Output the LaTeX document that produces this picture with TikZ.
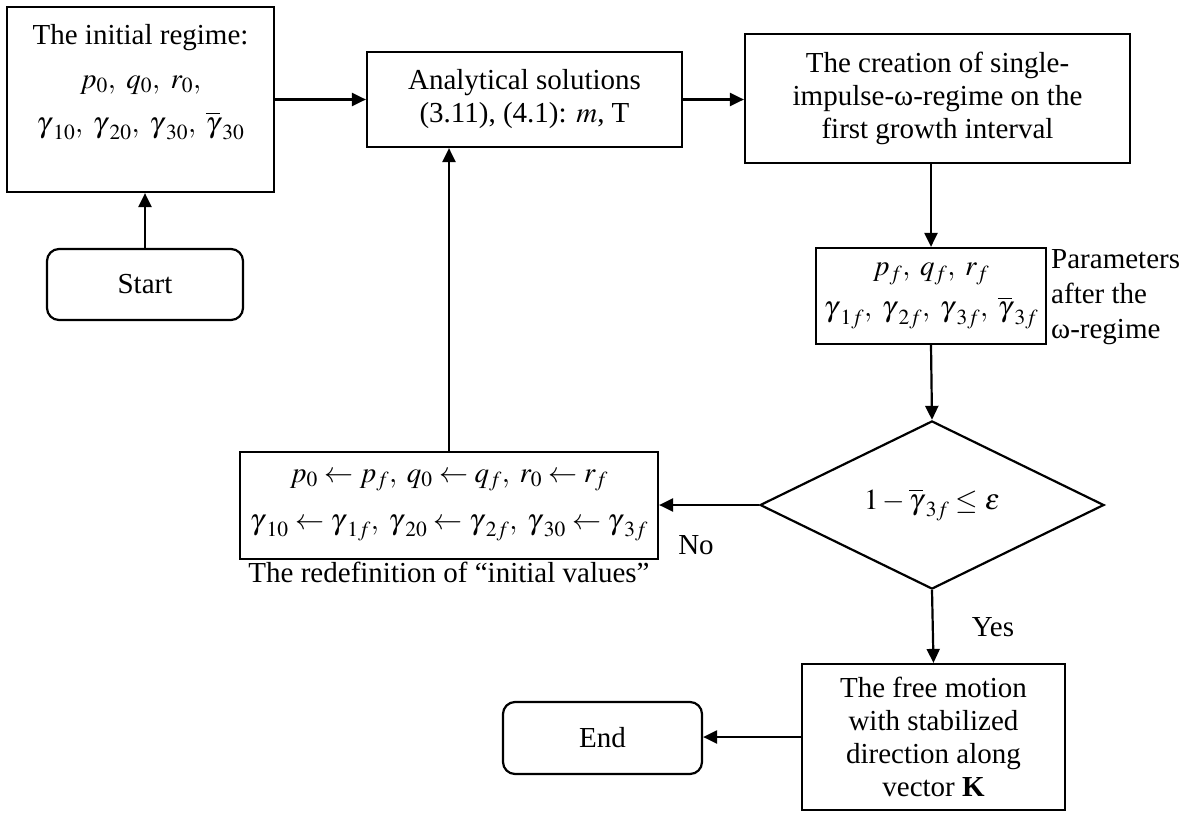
\documentclass[tikz,border=0pt]{standalone}
\usepackage{mathptmx}
\usepackage{fontspec}
\setmainfont{Liberation Serif}
\usetikzlibrary{arrows.meta,shapes.geometric}
\newcommand{\gam}[1]{{\gamma\mkern1.5mu}_{#1}}
\newcommand{\gambar}[1]{{\overline{\gamma}\mkern1.5mu}_{#1}}
\tikzset{
  box/.style={draw, line width=2.2pt, align=center, inner sep=0pt},
  term/.style={box, rounded corners=12pt},
  decision/.style={draw, diamond, line width=2.2pt, inner sep=0pt},
  flow/.style={line width=2.2pt, -{Triangle[length=14pt,width=13pt]}},
  lbl/.style={inner sep=0pt, align=center}
}
\begin{document}
\begin{tikzpicture}[x=1pt,y=-1pt]
                \useasboundingbox (0,0) rectangle (1190,816);
                {\fontsize{29}{33}\selectfont

                % Box: initial regime
                \node [box, minimum width=267pt, minimum height=185pt] (init) at (140.5,99.5) {};%
                \node [lbl, anchor=north] (initText) at ([yshift=-18pt]init.north) {The initial regime:\\[11pt]
                  $p_0,\ q_0,\ r_0,$\\[11pt]
                  $\gam{10},\;\gam{20},\;\gam{30},\;\gambar{30}$};%

                % Terminal: start
                \node [term, minimum width=196pt, minimum height=71pt] (start) at (145,284.5) {Start};%

                % Box: analytical solutions
                \node [box, minimum width=315pt, minimum height=95pt] (analyt) at (524.5,99.5) {Analytical solutions\\(3.11), (4.1): $m$, T};%

                % Box: creation of the omega-regime
                \node [box, minimum width=385pt, minimum height=129pt] (creation) at (937.5,98.5) {The creation of single-\\impulse-ω-regime on the\\first growth interval};%

                % Box: parameters after the omega-regime
                \node [box, minimum width=230pt, minimum height=96pt] (params) at (931,296) {$p_f,\;q_f,\;r_f$\\[8pt]
                  $\gam{1f},\;\gam{2f},\;\gam{3f},\;\gambar{3f}$};%
                \node [lbl, anchor=north west, align=left] (paramsText) at (1051,249) {Parameters\\[2pt]after the\\[2pt]ω-regime};%

                % Decision: stabilization test
                \node [decision, minimum width=344pt, minimum height=150pt] (check) at (932,505) {$1-\gambar{3f}\leq\varepsilon$};%

                % Box: redefinition of initial values
                \node [box, minimum width=418pt, minimum height=107pt] (redef) at (449,505.5) {$p_0\leftarrow p_f,\;q_0\leftarrow q_f,\;r_0\leftarrow r_f$\\[14pt]
                  $\gam{10}\leftarrow\gam{1f},\;\gam{20}\leftarrow\gam{2f},\;\gam{30}\leftarrow\gam{3f}$};%
                \node [lbl, anchor=north] (redefText) at (449,562) {The redefinition of “initial values”};%

                % Box: free motion
                \node [box, minimum width=263pt, minimum height=146pt] (free) at (933.5,737) {The free motion\\with stabilized\\direction along\\vector \textbf{K}};%

                % Terminal: end
                \node [term, minimum width=199pt, minimum height=72pt] (end) at (602.5,738) {End};%

                % Branch labels
                \node [lbl] (no) at (696,545) {No};%
                \node [lbl] (yes) at (993,627) {Yes};%

                % Drawing connectors
                \draw [flow] (start.north) -- (start.north |- init.south);%
                \draw [flow] (init.east) -- (init.east -| analyt.west);%
                \draw [flow] (analyt.east) -- (analyt.east -| creation.west);%
                \draw [flow] (params.north |- creation.south) -- (params.north);%
                \draw [flow] (params.south) -- (check.north);%
                \draw [flow] (check.west) -- (check.west -| redef.east);%
                \draw [flow] (redef.north) -- (redef.north |- analyt.south);%
                \draw [flow] (check.south) -- (free.north);%
                \draw [flow] (free.west) -- (free.west -| end.east);%
                }
            \end{tikzpicture}
\end{document}
